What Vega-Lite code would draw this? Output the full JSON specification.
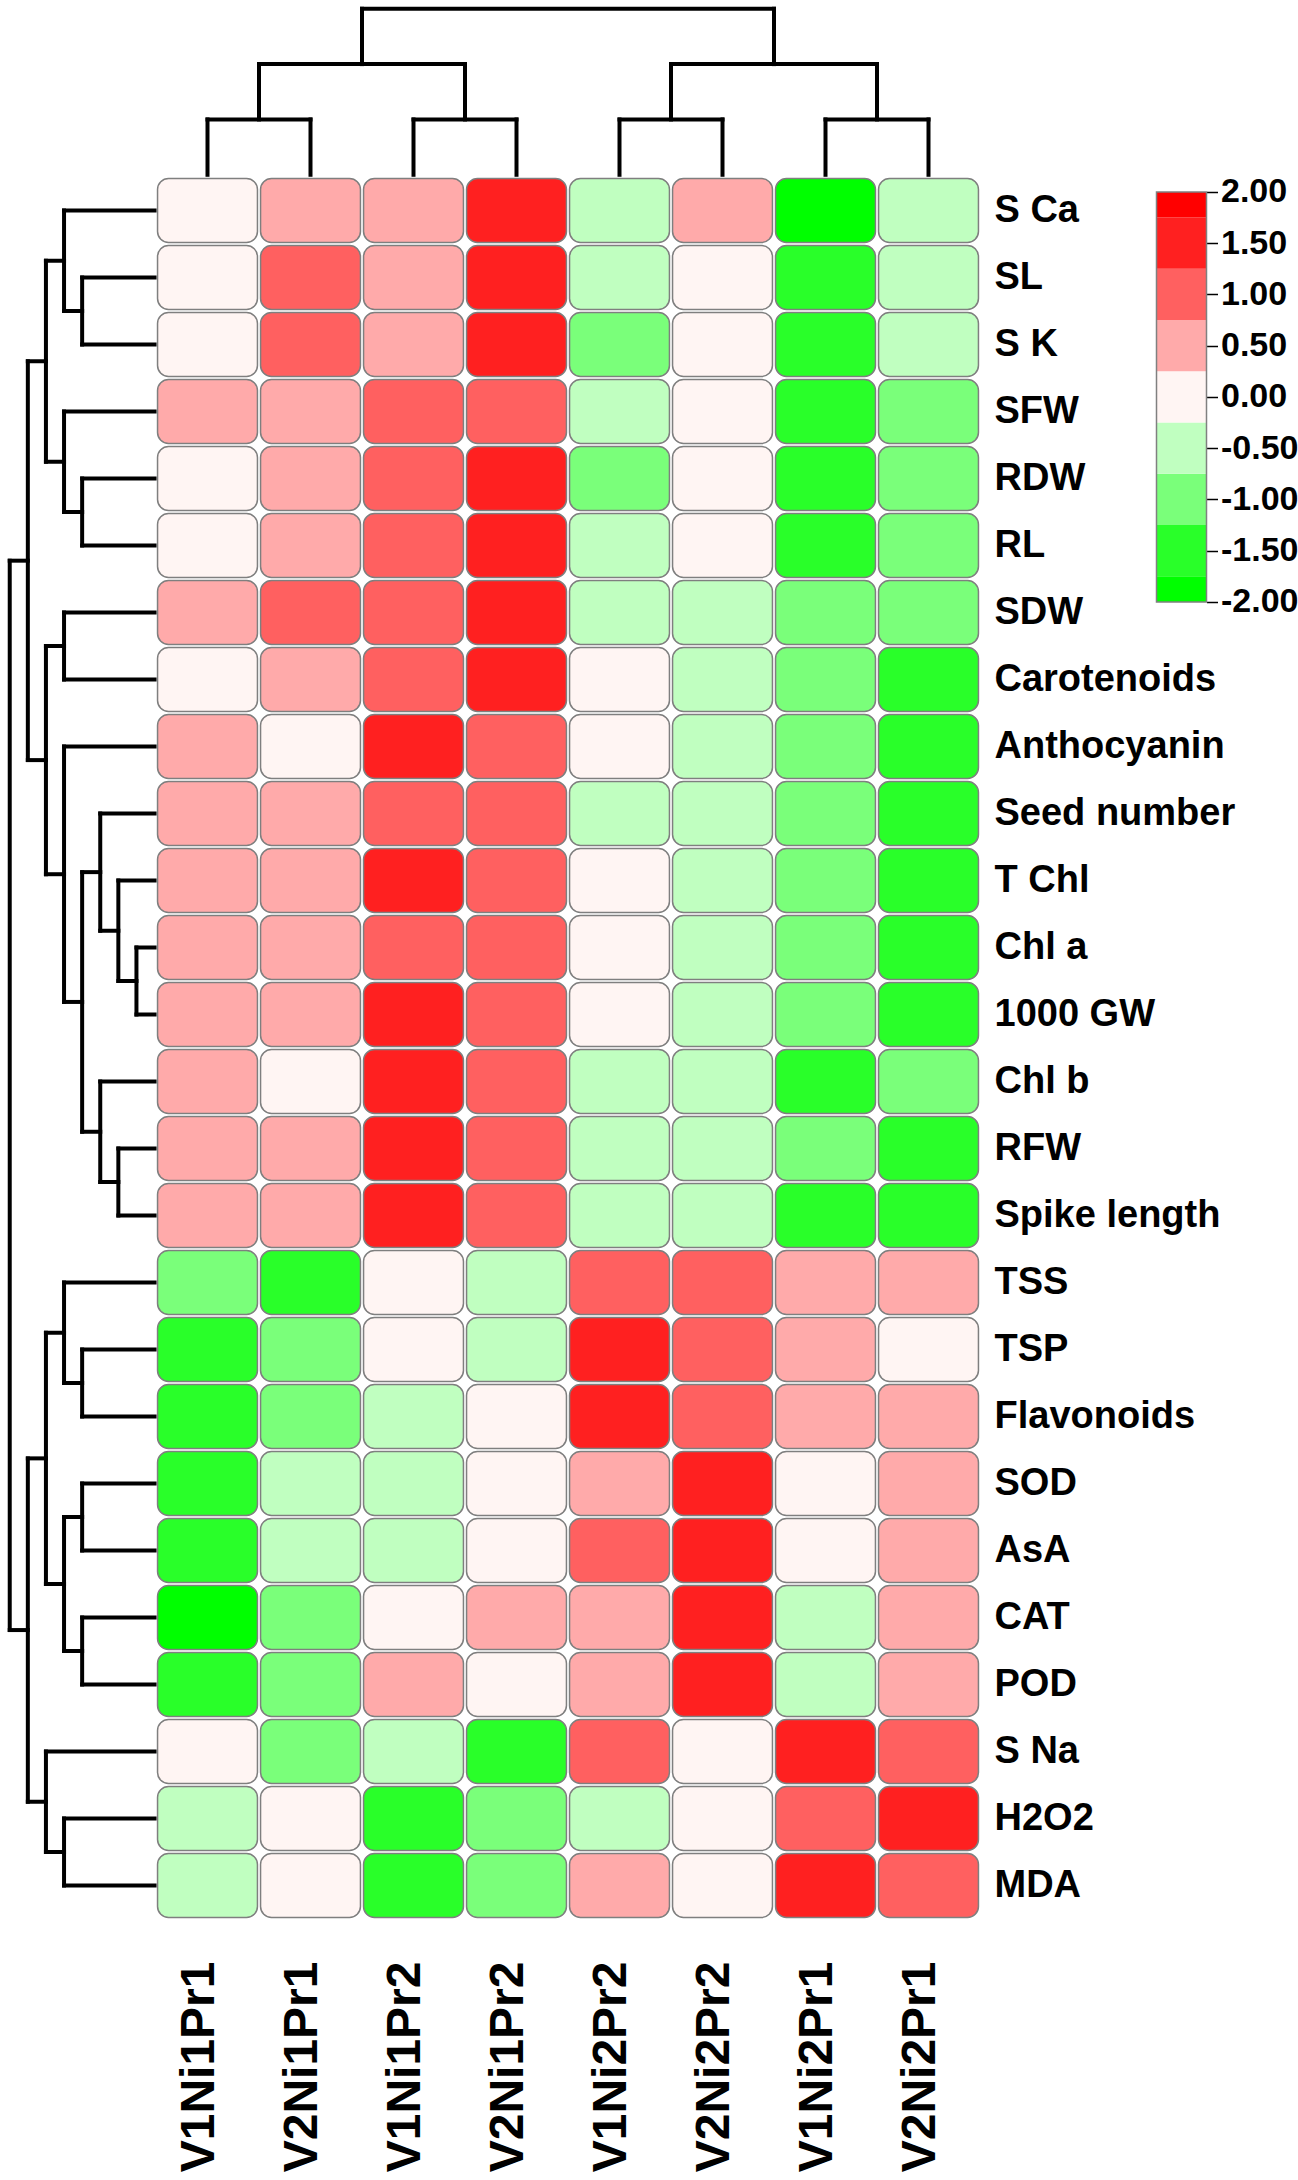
{
"$schema": "https://vega.github.io/schema/vega-lite/v6.json",
"width": 824,
"height": 1742,
"padding": {"left": 6, "top": 5, "right": 0, "bottom": 0},
"background": "white",
"config": {"view": {"stroke": null}, "axis": {"labelFont": "Liberation Sans", "labelFontWeight": "bold", "labelColor": "#000000", "grid": false, "title": null, "labelLimit": 500}},
"resolve": {"scale": {"x": "independent", "y": "independent"}, "axis": {"x": "independent", "y": "independent"}},
"layer": [
{
"data": {"values": [
{"trait":"S Ca","sample":"V1Ni1Pr1","z":0},{"trait":"S Ca","sample":"V2Ni1Pr1","z":0.5},{"trait":"S Ca","sample":"V1Ni1Pr2","z":0.5},{"trait":"S Ca","sample":"V2Ni1Pr2","z":1.5},{"trait":"S Ca","sample":"V1Ni2Pr2","z":-0.5},{"trait":"S Ca","sample":"V2Ni2Pr2","z":0.5},{"trait":"S Ca","sample":"V1Ni2Pr1","z":-1.9},{"trait":"S Ca","sample":"V2Ni2Pr1","z":-0.5},
{"trait":"SL","sample":"V1Ni1Pr1","z":0},{"trait":"SL","sample":"V2Ni1Pr1","z":1},{"trait":"SL","sample":"V1Ni1Pr2","z":0.5},{"trait":"SL","sample":"V2Ni1Pr2","z":1.5},{"trait":"SL","sample":"V1Ni2Pr2","z":-0.5},{"trait":"SL","sample":"V2Ni2Pr2","z":0},{"trait":"SL","sample":"V1Ni2Pr1","z":-1.5},{"trait":"SL","sample":"V2Ni2Pr1","z":-0.5},
{"trait":"S K","sample":"V1Ni1Pr1","z":0},{"trait":"S K","sample":"V2Ni1Pr1","z":1},{"trait":"S K","sample":"V1Ni1Pr2","z":0.5},{"trait":"S K","sample":"V2Ni1Pr2","z":1.5},{"trait":"S K","sample":"V1Ni2Pr2","z":-1},{"trait":"S K","sample":"V2Ni2Pr2","z":0},{"trait":"S K","sample":"V1Ni2Pr1","z":-1.5},{"trait":"S K","sample":"V2Ni2Pr1","z":-0.5},
{"trait":"SFW","sample":"V1Ni1Pr1","z":0.5},{"trait":"SFW","sample":"V2Ni1Pr1","z":0.5},{"trait":"SFW","sample":"V1Ni1Pr2","z":1},{"trait":"SFW","sample":"V2Ni1Pr2","z":1},{"trait":"SFW","sample":"V1Ni2Pr2","z":-0.5},{"trait":"SFW","sample":"V2Ni2Pr2","z":0},{"trait":"SFW","sample":"V1Ni2Pr1","z":-1.5},{"trait":"SFW","sample":"V2Ni2Pr1","z":-1},
{"trait":"RDW","sample":"V1Ni1Pr1","z":0},{"trait":"RDW","sample":"V2Ni1Pr1","z":0.5},{"trait":"RDW","sample":"V1Ni1Pr2","z":1},{"trait":"RDW","sample":"V2Ni1Pr2","z":1.5},{"trait":"RDW","sample":"V1Ni2Pr2","z":-1},{"trait":"RDW","sample":"V2Ni2Pr2","z":0},{"trait":"RDW","sample":"V1Ni2Pr1","z":-1.5},{"trait":"RDW","sample":"V2Ni2Pr1","z":-1},
{"trait":"RL","sample":"V1Ni1Pr1","z":0},{"trait":"RL","sample":"V2Ni1Pr1","z":0.5},{"trait":"RL","sample":"V1Ni1Pr2","z":1},{"trait":"RL","sample":"V2Ni1Pr2","z":1.5},{"trait":"RL","sample":"V1Ni2Pr2","z":-0.5},{"trait":"RL","sample":"V2Ni2Pr2","z":0},{"trait":"RL","sample":"V1Ni2Pr1","z":-1.5},{"trait":"RL","sample":"V2Ni2Pr1","z":-1},
{"trait":"SDW","sample":"V1Ni1Pr1","z":0.5},{"trait":"SDW","sample":"V2Ni1Pr1","z":1},{"trait":"SDW","sample":"V1Ni1Pr2","z":1},{"trait":"SDW","sample":"V2Ni1Pr2","z":1.5},{"trait":"SDW","sample":"V1Ni2Pr2","z":-0.5},{"trait":"SDW","sample":"V2Ni2Pr2","z":-0.5},{"trait":"SDW","sample":"V1Ni2Pr1","z":-1},{"trait":"SDW","sample":"V2Ni2Pr1","z":-1},
{"trait":"Carotenoids","sample":"V1Ni1Pr1","z":0},{"trait":"Carotenoids","sample":"V2Ni1Pr1","z":0.5},{"trait":"Carotenoids","sample":"V1Ni1Pr2","z":1},{"trait":"Carotenoids","sample":"V2Ni1Pr2","z":1.5},{"trait":"Carotenoids","sample":"V1Ni2Pr2","z":0},{"trait":"Carotenoids","sample":"V2Ni2Pr2","z":-0.5},{"trait":"Carotenoids","sample":"V1Ni2Pr1","z":-1},{"trait":"Carotenoids","sample":"V2Ni2Pr1","z":-1.5},
{"trait":"Anthocyanin","sample":"V1Ni1Pr1","z":0.5},{"trait":"Anthocyanin","sample":"V2Ni1Pr1","z":0},{"trait":"Anthocyanin","sample":"V1Ni1Pr2","z":1.5},{"trait":"Anthocyanin","sample":"V2Ni1Pr2","z":1},{"trait":"Anthocyanin","sample":"V1Ni2Pr2","z":0},{"trait":"Anthocyanin","sample":"V2Ni2Pr2","z":-0.5},{"trait":"Anthocyanin","sample":"V1Ni2Pr1","z":-1},{"trait":"Anthocyanin","sample":"V2Ni2Pr1","z":-1.5},
{"trait":"Seed number","sample":"V1Ni1Pr1","z":0.5},{"trait":"Seed number","sample":"V2Ni1Pr1","z":0.5},{"trait":"Seed number","sample":"V1Ni1Pr2","z":1},{"trait":"Seed number","sample":"V2Ni1Pr2","z":1},{"trait":"Seed number","sample":"V1Ni2Pr2","z":-0.5},{"trait":"Seed number","sample":"V2Ni2Pr2","z":-0.5},{"trait":"Seed number","sample":"V1Ni2Pr1","z":-1},{"trait":"Seed number","sample":"V2Ni2Pr1","z":-1.5},
{"trait":"T Chl","sample":"V1Ni1Pr1","z":0.5},{"trait":"T Chl","sample":"V2Ni1Pr1","z":0.5},{"trait":"T Chl","sample":"V1Ni1Pr2","z":1.5},{"trait":"T Chl","sample":"V2Ni1Pr2","z":1},{"trait":"T Chl","sample":"V1Ni2Pr2","z":0},{"trait":"T Chl","sample":"V2Ni2Pr2","z":-0.5},{"trait":"T Chl","sample":"V1Ni2Pr1","z":-1},{"trait":"T Chl","sample":"V2Ni2Pr1","z":-1.5},
{"trait":"Chl a","sample":"V1Ni1Pr1","z":0.5},{"trait":"Chl a","sample":"V2Ni1Pr1","z":0.5},{"trait":"Chl a","sample":"V1Ni1Pr2","z":1},{"trait":"Chl a","sample":"V2Ni1Pr2","z":1},{"trait":"Chl a","sample":"V1Ni2Pr2","z":0},{"trait":"Chl a","sample":"V2Ni2Pr2","z":-0.5},{"trait":"Chl a","sample":"V1Ni2Pr1","z":-1},{"trait":"Chl a","sample":"V2Ni2Pr1","z":-1.5},
{"trait":"1000 GW","sample":"V1Ni1Pr1","z":0.5},{"trait":"1000 GW","sample":"V2Ni1Pr1","z":0.5},{"trait":"1000 GW","sample":"V1Ni1Pr2","z":1.5},{"trait":"1000 GW","sample":"V2Ni1Pr2","z":1},{"trait":"1000 GW","sample":"V1Ni2Pr2","z":0},{"trait":"1000 GW","sample":"V2Ni2Pr2","z":-0.5},{"trait":"1000 GW","sample":"V1Ni2Pr1","z":-1},{"trait":"1000 GW","sample":"V2Ni2Pr1","z":-1.5},
{"trait":"Chl b","sample":"V1Ni1Pr1","z":0.5},{"trait":"Chl b","sample":"V2Ni1Pr1","z":0},{"trait":"Chl b","sample":"V1Ni1Pr2","z":1.5},{"trait":"Chl b","sample":"V2Ni1Pr2","z":1},{"trait":"Chl b","sample":"V1Ni2Pr2","z":-0.5},{"trait":"Chl b","sample":"V2Ni2Pr2","z":-0.5},{"trait":"Chl b","sample":"V1Ni2Pr1","z":-1.5},{"trait":"Chl b","sample":"V2Ni2Pr1","z":-1},
{"trait":"RFW","sample":"V1Ni1Pr1","z":0.5},{"trait":"RFW","sample":"V2Ni1Pr1","z":0.5},{"trait":"RFW","sample":"V1Ni1Pr2","z":1.5},{"trait":"RFW","sample":"V2Ni1Pr2","z":1},{"trait":"RFW","sample":"V1Ni2Pr2","z":-0.5},{"trait":"RFW","sample":"V2Ni2Pr2","z":-0.5},{"trait":"RFW","sample":"V1Ni2Pr1","z":-1},{"trait":"RFW","sample":"V2Ni2Pr1","z":-1.5},
{"trait":"Spike length","sample":"V1Ni1Pr1","z":0.5},{"trait":"Spike length","sample":"V2Ni1Pr1","z":0.5},{"trait":"Spike length","sample":"V1Ni1Pr2","z":1.5},{"trait":"Spike length","sample":"V2Ni1Pr2","z":1},{"trait":"Spike length","sample":"V1Ni2Pr2","z":-0.5},{"trait":"Spike length","sample":"V2Ni2Pr2","z":-0.5},{"trait":"Spike length","sample":"V1Ni2Pr1","z":-1.5},{"trait":"Spike length","sample":"V2Ni2Pr1","z":-1.5},
{"trait":"TSS","sample":"V1Ni1Pr1","z":-1},{"trait":"TSS","sample":"V2Ni1Pr1","z":-1.5},{"trait":"TSS","sample":"V1Ni1Pr2","z":0},{"trait":"TSS","sample":"V2Ni1Pr2","z":-0.5},{"trait":"TSS","sample":"V1Ni2Pr2","z":1},{"trait":"TSS","sample":"V2Ni2Pr2","z":1},{"trait":"TSS","sample":"V1Ni2Pr1","z":0.5},{"trait":"TSS","sample":"V2Ni2Pr1","z":0.5},
{"trait":"TSP","sample":"V1Ni1Pr1","z":-1.5},{"trait":"TSP","sample":"V2Ni1Pr1","z":-1},{"trait":"TSP","sample":"V1Ni1Pr2","z":0},{"trait":"TSP","sample":"V2Ni1Pr2","z":-0.5},{"trait":"TSP","sample":"V1Ni2Pr2","z":1.5},{"trait":"TSP","sample":"V2Ni2Pr2","z":1},{"trait":"TSP","sample":"V1Ni2Pr1","z":0.5},{"trait":"TSP","sample":"V2Ni2Pr1","z":0},
{"trait":"Flavonoids","sample":"V1Ni1Pr1","z":-1.5},{"trait":"Flavonoids","sample":"V2Ni1Pr1","z":-1},{"trait":"Flavonoids","sample":"V1Ni1Pr2","z":-0.5},{"trait":"Flavonoids","sample":"V2Ni1Pr2","z":0},{"trait":"Flavonoids","sample":"V1Ni2Pr2","z":1.5},{"trait":"Flavonoids","sample":"V2Ni2Pr2","z":1},{"trait":"Flavonoids","sample":"V1Ni2Pr1","z":0.5},{"trait":"Flavonoids","sample":"V2Ni2Pr1","z":0.5},
{"trait":"SOD","sample":"V1Ni1Pr1","z":-1.5},{"trait":"SOD","sample":"V2Ni1Pr1","z":-0.5},{"trait":"SOD","sample":"V1Ni1Pr2","z":-0.5},{"trait":"SOD","sample":"V2Ni1Pr2","z":0},{"trait":"SOD","sample":"V1Ni2Pr2","z":0.5},{"trait":"SOD","sample":"V2Ni2Pr2","z":1.5},{"trait":"SOD","sample":"V1Ni2Pr1","z":0},{"trait":"SOD","sample":"V2Ni2Pr1","z":0.5},
{"trait":"AsA","sample":"V1Ni1Pr1","z":-1.5},{"trait":"AsA","sample":"V2Ni1Pr1","z":-0.5},{"trait":"AsA","sample":"V1Ni1Pr2","z":-0.5},{"trait":"AsA","sample":"V2Ni1Pr2","z":0},{"trait":"AsA","sample":"V1Ni2Pr2","z":1},{"trait":"AsA","sample":"V2Ni2Pr2","z":1.5},{"trait":"AsA","sample":"V1Ni2Pr1","z":0},{"trait":"AsA","sample":"V2Ni2Pr1","z":0.5},
{"trait":"CAT","sample":"V1Ni1Pr1","z":-1.9},{"trait":"CAT","sample":"V2Ni1Pr1","z":-1},{"trait":"CAT","sample":"V1Ni1Pr2","z":0},{"trait":"CAT","sample":"V2Ni1Pr2","z":0.5},{"trait":"CAT","sample":"V1Ni2Pr2","z":0.5},{"trait":"CAT","sample":"V2Ni2Pr2","z":1.5},{"trait":"CAT","sample":"V1Ni2Pr1","z":-0.5},{"trait":"CAT","sample":"V2Ni2Pr1","z":0.5},
{"trait":"POD","sample":"V1Ni1Pr1","z":-1.5},{"trait":"POD","sample":"V2Ni1Pr1","z":-1},{"trait":"POD","sample":"V1Ni1Pr2","z":0.5},{"trait":"POD","sample":"V2Ni1Pr2","z":0},{"trait":"POD","sample":"V1Ni2Pr2","z":0.5},{"trait":"POD","sample":"V2Ni2Pr2","z":1.5},{"trait":"POD","sample":"V1Ni2Pr1","z":-0.5},{"trait":"POD","sample":"V2Ni2Pr1","z":0.5},
{"trait":"S Na","sample":"V1Ni1Pr1","z":0},{"trait":"S Na","sample":"V2Ni1Pr1","z":-1},{"trait":"S Na","sample":"V1Ni1Pr2","z":-0.5},{"trait":"S Na","sample":"V2Ni1Pr2","z":-1.5},{"trait":"S Na","sample":"V1Ni2Pr2","z":1},{"trait":"S Na","sample":"V2Ni2Pr2","z":0},{"trait":"S Na","sample":"V1Ni2Pr1","z":1.5},{"trait":"S Na","sample":"V2Ni2Pr1","z":1},
{"trait":"H2O2","sample":"V1Ni1Pr1","z":-0.5},{"trait":"H2O2","sample":"V2Ni1Pr1","z":0},{"trait":"H2O2","sample":"V1Ni1Pr2","z":-1.5},{"trait":"H2O2","sample":"V2Ni1Pr2","z":-1},{"trait":"H2O2","sample":"V1Ni2Pr2","z":-0.5},{"trait":"H2O2","sample":"V2Ni2Pr2","z":0},{"trait":"H2O2","sample":"V1Ni2Pr1","z":1},{"trait":"H2O2","sample":"V2Ni2Pr1","z":1.5},
{"trait":"MDA","sample":"V1Ni1Pr1","z":-0.5},{"trait":"MDA","sample":"V2Ni1Pr1","z":0},{"trait":"MDA","sample":"V1Ni1Pr2","z":-1.5},{"trait":"MDA","sample":"V2Ni1Pr2","z":-1},{"trait":"MDA","sample":"V1Ni2Pr2","z":0.5},{"trait":"MDA","sample":"V2Ni2Pr2","z":0},{"trait":"MDA","sample":"V1Ni2Pr1","z":1.5},{"trait":"MDA","sample":"V2Ni2Pr1","z":1}
]},
"mark": {"type": "rect", "cornerRadius": 11, "stroke": "#7f7f7f", "strokeWidth": 1.5},
"encoding": {
"x": {"field": "sample", "type": "nominal", "sort": ["V1Ni1Pr1","V2Ni1Pr1","V1Ni1Pr2","V2Ni1Pr2","V1Ni2Pr2","V2Ni2Pr2","V1Ni2Pr1","V2Ni2Pr1"], "scale": {"paddingInner": 0.03, "paddingOuter": 0.015}, "axis": {"orient": "bottom", "labelAngle": -90, "labelFontSize": 48, "labelPadding": 42, "labelOffset": -8, "ticks": false, "domain": false, "labelLimit": 500}},
"y": {"field": "trait", "type": "nominal", "sort": ["S Ca","SL","S K","SFW","RDW","RL","SDW","Carotenoids","Anthocyanin","Seed number","T Chl","Chl a","1000 GW","Chl b","RFW","Spike length","TSS","TSP","Flavonoids","SOD","AsA","CAT","POD","S Na","H2O2","MDA"], "scale": {"paddingInner": 0.045, "paddingOuter": 0.0225}, "axis": {"orient": "right", "labelFontSize": 38, "labelPadding": 14, "ticks": false, "domain": false, "labelLimit": 500}},
"color": {"field": "z", "type": "quantitative", "scale": {"type": "threshold", "domain": [-1.75,-1.25,-0.75,-0.25,0.25,0.75,1.25,1.75], "range": ["#00FF00","#29FF29","#7AFF7A","#C0FFC0","#FFF5F3","#FFAAAA","#FF6060","#FF2020","#FF0000"]}, "legend": null}
}
},
{
"data": {"values": [
{"c1":1,"c2":2,"h1":1,"h2":1},{"c1":1,"c2":1,"h1":0,"h2":1},{"c1":2,"c2":2,"h1":0,"h2":1},
{"c1":3,"c2":4,"h1":1,"h2":1},{"c1":3,"c2":3,"h1":0,"h2":1},{"c1":4,"c2":4,"h1":0,"h2":1},
{"c1":5,"c2":6,"h1":1,"h2":1},{"c1":5,"c2":5,"h1":0,"h2":1},{"c1":6,"c2":6,"h1":0,"h2":1},
{"c1":7,"c2":8,"h1":1,"h2":1},{"c1":7,"c2":7,"h1":0,"h2":1},{"c1":8,"c2":8,"h1":0,"h2":1},
{"c1":1.5,"c2":3.5,"h1":2,"h2":2},{"c1":1.5,"c2":1.5,"h1":1,"h2":2},{"c1":3.5,"c2":3.5,"h1":1,"h2":2},
{"c1":5.5,"c2":7.5,"h1":2,"h2":2},{"c1":5.5,"c2":5.5,"h1":1,"h2":2},{"c1":7.5,"c2":7.5,"h1":1,"h2":2},
{"c1":2.5,"c2":6.5,"h1":3,"h2":3},{"c1":2.5,"c2":2.5,"h1":2,"h2":3},{"c1":6.5,"c2":6.5,"h1":2,"h2":3}
]},
"mark": {"type": "rule", "strokeWidth": 4, "color": "#000000", "strokeCap": "square"},
"encoding": {
"x": {"field": "c1", "type": "quantitative", "scale": {"domain": [0.5, 8.5], "nice": false, "zero": false}, "axis": null},
"x2": {"field": "c2"},
"y": {"field": "h1", "type": "quantitative", "scale": {"domain": [-31.52, -0.04], "nice": false, "zero": false}, "axis": null},
"y2": {"field": "h2"}
}
},
{
"data": {"values": [
{"h1":4,"h2":4,"r1":2,"r2":3},{"h1":0,"h2":4,"r1":2,"r2":2},{"h1":0,"h2":4,"r1":3,"r2":3},
{"h1":5,"h2":5,"r1":1,"r2":2.5},{"h1":0,"h2":5,"r1":1,"r2":1},{"h1":4,"h2":5,"r1":2.5,"r2":2.5},
{"h1":4,"h2":4,"r1":5,"r2":6},{"h1":0,"h2":4,"r1":5,"r2":5},{"h1":0,"h2":4,"r1":6,"r2":6},
{"h1":5,"h2":5,"r1":4,"r2":5.5},{"h1":0,"h2":5,"r1":4,"r2":4},{"h1":4,"h2":5,"r1":5.5,"r2":5.5},
{"h1":6,"h2":6,"r1":1.75,"r2":4.75},{"h1":5,"h2":6,"r1":1.75,"r2":1.75},{"h1":5,"h2":6,"r1":4.75,"r2":4.75},
{"h1":5,"h2":5,"r1":7,"r2":8},{"h1":0,"h2":5,"r1":7,"r2":7},{"h1":0,"h2":5,"r1":8,"r2":8},
{"h1":1,"h2":1,"r1":12,"r2":13},{"h1":0,"h2":1,"r1":12,"r2":12},{"h1":0,"h2":1,"r1":13,"r2":13},
{"h1":2,"h2":2,"r1":11,"r2":12.5},{"h1":0,"h2":2,"r1":11,"r2":11},{"h1":1,"h2":2,"r1":12.5,"r2":12.5},
{"h1":3,"h2":3,"r1":10,"r2":11.75},{"h1":0,"h2":3,"r1":10,"r2":10},{"h1":2,"h2":3,"r1":11.75,"r2":11.75},
{"h1":2,"h2":2,"r1":15,"r2":16},{"h1":0,"h2":2,"r1":15,"r2":15},{"h1":0,"h2":2,"r1":16,"r2":16},
{"h1":3,"h2":3,"r1":14,"r2":15.5},{"h1":0,"h2":3,"r1":14,"r2":14},{"h1":2,"h2":3,"r1":15.5,"r2":15.5},
{"h1":4,"h2":4,"r1":10.875,"r2":14.75},{"h1":3,"h2":4,"r1":10.875,"r2":10.875},{"h1":3,"h2":4,"r1":14.75,"r2":14.75},
{"h1":5,"h2":5,"r1":9,"r2":12.8125},{"h1":0,"h2":5,"r1":9,"r2":9},{"h1":4,"h2":5,"r1":12.8125,"r2":12.8125},
{"h1":6,"h2":6,"r1":7.5,"r2":10.90625},{"h1":5,"h2":6,"r1":7.5,"r2":7.5},{"h1":5,"h2":6,"r1":10.90625,"r2":10.90625},
{"h1":7,"h2":7,"r1":3.25,"r2":9.203125},{"h1":6,"h2":7,"r1":3.25,"r2":3.25},{"h1":6,"h2":7,"r1":9.203125,"r2":9.203125},
{"h1":4,"h2":4,"r1":18,"r2":19},{"h1":0,"h2":4,"r1":18,"r2":18},{"h1":0,"h2":4,"r1":19,"r2":19},
{"h1":5,"h2":5,"r1":17,"r2":18.5},{"h1":0,"h2":5,"r1":17,"r2":17},{"h1":4,"h2":5,"r1":18.5,"r2":18.5},
{"h1":4,"h2":4,"r1":20,"r2":21},{"h1":0,"h2":4,"r1":20,"r2":20},{"h1":0,"h2":4,"r1":21,"r2":21},
{"h1":4,"h2":4,"r1":22,"r2":23},{"h1":0,"h2":4,"r1":22,"r2":22},{"h1":0,"h2":4,"r1":23,"r2":23},
{"h1":5,"h2":5,"r1":20.5,"r2":22.5},{"h1":4,"h2":5,"r1":20.5,"r2":20.5},{"h1":4,"h2":5,"r1":22.5,"r2":22.5},
{"h1":6,"h2":6,"r1":17.75,"r2":21.5},{"h1":5,"h2":6,"r1":17.75,"r2":17.75},{"h1":5,"h2":6,"r1":21.5,"r2":21.5},
{"h1":5,"h2":5,"r1":25,"r2":26},{"h1":0,"h2":5,"r1":25,"r2":25},{"h1":0,"h2":5,"r1":26,"r2":26},
{"h1":6,"h2":6,"r1":24,"r2":25.5},{"h1":0,"h2":6,"r1":24,"r2":24},{"h1":5,"h2":6,"r1":25.5,"r2":25.5},
{"h1":7,"h2":7,"r1":19.625,"r2":24.75},{"h1":6,"h2":7,"r1":19.625,"r2":19.625},{"h1":6,"h2":7,"r1":24.75,"r2":24.75},
{"h1":8,"h2":8,"r1":6.2265625,"r2":22.1875},{"h1":7,"h2":8,"r1":6.2265625,"r2":6.2265625},{"h1":7,"h2":8,"r1":22.1875,"r2":22.1875}
]},
"mark": {"type": "rule", "strokeWidth": 4, "color": "#000000", "strokeCap": "square"},
"encoding": {
"x": {"field": "h1", "type": "quantitative", "scale": {"domain": [-45.6, -0.08], "reverse": true, "nice": false, "zero": false}, "axis": null},
"x2": {"field": "h2"},
"y": {"field": "r1", "type": "quantitative", "scale": {"domain": [0.5, 26.5], "reverse": true, "nice": false, "zero": false}, "axis": null},
"y2": {"field": "r2"}
}
},
{
"layer": [
{
"data": {"values": [
{"lo":-2,"hi":-1.75,"mid":-1.9},{"lo":-1.75,"hi":-1.25,"mid":-1.5},{"lo":-1.25,"hi":-0.75,"mid":-1},{"lo":-0.75,"hi":-0.25,"mid":-0.5},{"lo":-0.25,"hi":0.25,"mid":0},{"lo":0.25,"hi":0.75,"mid":0.5},{"lo":0.75,"hi":1.25,"mid":1},{"lo":1.25,"hi":1.75,"mid":1.5},{"lo":1.75,"hi":2,"mid":1.9}
]},
"mark": {"type": "rect"},
"encoding": {
"x": {"datum": 0, "type": "quantitative", "scale": {"domain": [-20.01, -3.53], "nice": false, "zero": false}, "axis": null},
"x2": {"datum": 1},
"y": {"field": "lo", "type": "quantitative", "scale": {"domain": [-14.849, 2.146], "nice": false, "zero": false}, "axis": {"orient": "right", "offset": 226.5, "values": [-2,-1.5,-1,-0.5,0,0.5,1,1.5,2], "labelExpr": "(datum.value < 0 ? '-' : '') + format(abs(datum.value), '.2f')", "labelFontSize": 34, "tickSize": 11, "tickWidth": 1.5, "tickColor": "#000000", "domain": false, "labelPadding": 3, "labelOverlap": false, "labelBound": false, "labelFlush": false}},
"y2": {"field": "hi"},
"color": {"field": "mid", "type": "quantitative", "scale": {"type": "threshold", "domain": [-1.75,-1.25,-0.75,-0.25,0.25,0.75,1.25,1.75], "range": ["#00FF00","#29FF29","#7AFF7A","#C0FFC0","#FFF5F3","#FFAAAA","#FF6060","#FF2020","#FF0000"]}, "legend": null}
}
},
{
"data": {"values": [{"lo": -2, "hi": 2}]},
"mark": {"type": "rect", "fill": "transparent", "stroke": "#808080", "strokeWidth": 1.5},
"encoding": {
"x": {"datum": 0, "type": "quantitative"},
"x2": {"datum": 1},
"y": {"field": "lo", "type": "quantitative"},
"y2": {"field": "hi"}
}
}
]
}
]
}
